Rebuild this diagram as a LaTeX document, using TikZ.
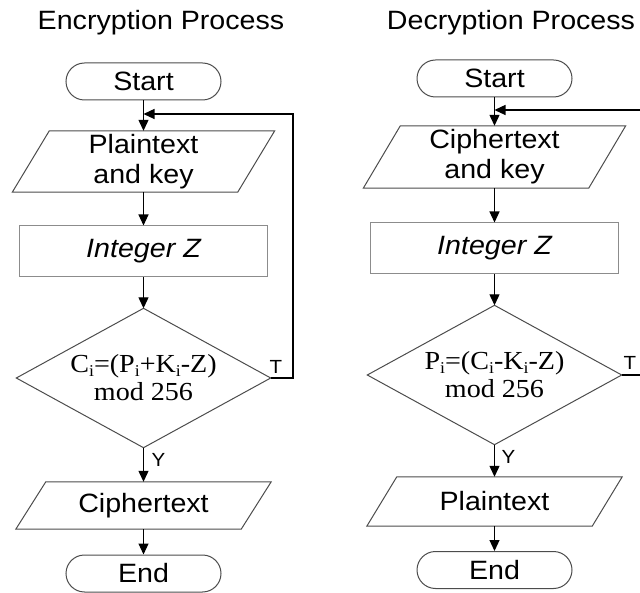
\documentclass[tikz,border=0pt]{standalone}
\usepackage{fontspec}
\setmainfont[FakeStretch=1.08]{Liberation Sans}
\newfontfamily\tmsfont[FakeStretch=1.08]{Liberation Serif}
\usetikzlibrary{arrows.meta,shapes.misc}
\newcommand\sbi{\raisebox{-4pt}{\fontsize{16.5}{16.5}\selectfont i}}
\newcommand\drawpara[2]{\draw[shapeline] ([xshift=#2]#1.north west) -- ([xshift=#2]#1.north east) -- ([xshift=-#2]#1.south east) -- ([xshift=-#2]#1.south west) -- cycle;}
\begin{document}
\begin{tikzpicture}[x=1pt,y=-1pt,
  txt/.style={font=\fontsize{26.5}{30}\selectfont, align=center, inner sep=0pt},
  term/.style={txt, rounded rectangle, draw=black!70, line width=1pt, minimum width=155pt, minimum height=37pt},
  intbox/.style={txt, rectangle, draw=black!45, line width=1pt, minimum width=248pt, minimum height=51pt, font=\fontsize{26.5}{30}\selectfont\itshape},
  paranode/.style={txt, minimum width=225pt, minimum height=#1},
  decnode/.style={minimum width=254pt, minimum height=139pt, inner sep=0pt, align=center, font=\tmsfont\fontsize{26}{28}\selectfont},
  shapeline/.style={draw=black!70, line width=1pt},
  arr/.style={draw=black, line width=1.2pt, -{Triangle[length=11pt,width=10pt]}},
  lbl/.style={font=\fontsize{19}{19}\selectfont, inner sep=0pt},
  ttl/.style={font=\fontsize{26.5}{30}\selectfont, inner sep=0pt}]
\useasboundingbox (0,0) rectangle (640,593);
\clip (0,0) rectangle (640,593);

% Encryption
\node[ttl] (t1) at (161,23) {Encryption Process};
\node[term] (s1) at (143.5,81.5) {Start};
\node[paranode=61pt] (p1) at (143.5,161.5) {Plaintext\\and key};
\drawpara{p1}{18.5pt}
\node[intbox] (i1) at (143.5,251.5) {Integer Z};
\node[decnode] (d1) at (143.5,378) {C\sbi=(P\sbi+K\sbi-Z)\\mod 256};
\draw[shapeline] (d1.north) -- (d1.east) -- (d1.south) -- (d1.west) -- cycle;
\node[paranode=47pt] (c1) at (143.5,505.5) {Ciphertext};
\drawpara{c1}{15pt}
\node[term] (e1) at (143.5,573.5) {End};

\draw[arr] (s1.south) -- (p1.north);
\draw[arr] (p1.south) -- (i1.north);
\draw[arr] (i1.south) -- (d1.north);
\draw[arr] (d1.south) -- (c1.north);
\draw[arr] (c1.south) -- (e1.north);
\coordinate (m1) at (143.5,114);
\coordinate (r1) at (293,114);
\draw[arr] (d1.east) -| (r1) -- (m1);
\node[lbl] (T1) at (276,367) {T};
\node[lbl] (Y1) at (158.5,460) {Y};

% Decryption
\node[ttl] (t2) at (511,23) {Decryption Process};
\node[term] (s2) at (494.5,78.5) {Start};
\node[paranode=62pt] (p2) at (494.5,157) {Ciphertext\\and key};
\drawpara{p2}{18.5pt}
\node[intbox] (i2) at (494.5,248.5) {Integer Z};
\node[decnode] (d2) at (494.5,375) {P\sbi=(C\sbi-K\sbi-Z)\\mod 256};
\draw[shapeline] (d2.north) -- (d2.east) -- (d2.south) -- (d2.west) -- cycle;
\node[paranode=49pt] (c2) at (494.5,501.5) {Plaintext};
\drawpara{c2}{15pt}
\node[term] (e2) at (494.5,570) {End};

\draw[arr] (s2.south) -- (p2.north);
\draw[arr] (p2.south) -- (i2.north);
\draw[arr] (i2.south) -- (d2.north);
\draw[arr] (d2.south) -- (c2.north);
\draw[arr] (c2.south) -- (e2.north);
\coordinate (m2) at (494.5,110);
\coordinate (r2) at (660,110);
\draw[arr] (d2.east) -| (r2) -- (m2);
\node[lbl] (T2) at (630,362.5) {T};
\node[lbl] (Y2) at (508.5,456.5) {Y};
\end{tikzpicture}
\end{document}
